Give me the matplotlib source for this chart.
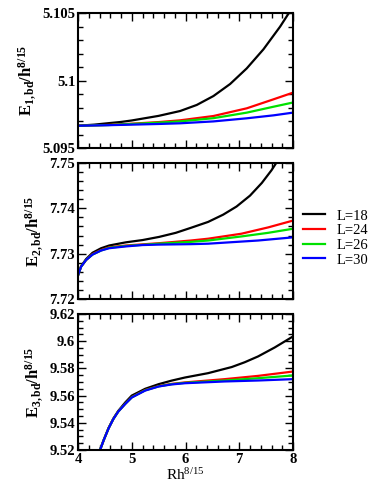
import numpy as np
import matplotlib
matplotlib.use("Agg")
import matplotlib.pyplot as plt
from matplotlib.ticker import MultipleLocator

plt.rcParams['font.family'] = 'Liberation Serif'
plt.rcParams['mathtext.fontset'] = 'custom'
plt.rcParams['mathtext.rm'] = 'Liberation Serif'
plt.rcParams['mathtext.it'] = 'Liberation Serif:italic'
plt.rcParams['mathtext.bf'] = 'Liberation Serif:bold'

labels = ['L=18', 'L=24', 'L=26', 'L=30']
colors = ['black', 'red', '#00e000', 'blue']
x_ticks = ['4', '5', '6', '7', '8']

# panel 1: E_1
x1_black = [4.0, 4.3, 4.57, 4.8, 5.0, 5.5, 5.9, 6.21, 6.52, 6.83, 7.14, 7.45, 7.76, 7.94, 8.0]
y1_black = [5.09665, 5.09673, 5.09684, 5.09693, 5.09704, 5.09738, 5.09774, 5.09819, 5.09885,
            5.09974, 5.10090, 5.10231, 5.10399, 5.10510, 5.10550]
x1_red = [4.0, 4.57, 5.0, 5.5, 5.9, 6.52, 7.14, 7.64, 8.0]
y1_red = [5.09665, 5.09671, 5.09680, 5.09692, 5.09705, 5.09737, 5.09794, 5.09861, 5.09910]
x1_green = [4.0, 4.57, 5.0, 5.5, 5.9, 6.52, 7.14, 7.64, 8.0]
y1_green = [5.09665, 5.09670, 5.09678, 5.09688, 5.09697, 5.09721, 5.09762, 5.09806, 5.09837]
x1_blue = [4.0, 4.57, 5.0, 5.5, 5.9, 6.52, 7.14, 7.64, 8.0]
y1_blue = [5.09665, 5.09669, 5.09673, 5.09678, 5.09683, 5.09697, 5.09720, 5.09742, 5.09762]

# panel 2: E_2
x2_black = [4.0, 4.056, 4.15, 4.27, 4.43, 4.58, 4.89, 5.2, 5.51, 5.82, 6.1, 6.42, 6.7, 6.95,
            7.2, 7.42, 7.6, 7.72]
y2_black = [7.7252, 7.7272, 7.7288, 7.7302, 7.7312, 7.7318, 7.7325, 7.7330, 7.7337, 7.7346,
            7.7357, 7.7370, 7.7386, 7.7404, 7.7428, 7.7456, 7.7484, 7.7506]
x2_red = [4.0, 4.056, 4.15, 4.27, 4.43, 4.58, 4.89, 5.5, 6.1, 6.42, 7.04, 7.54, 8.0]
y2_red = [7.7252, 7.7271, 7.7286, 7.7299, 7.7308, 7.7314, 7.7318, 7.7323, 7.7329, 7.7333,
          7.7344, 7.7358, 7.7373]
x2_green = [4.0, 4.056, 4.15, 4.27, 4.43, 4.58, 4.89, 5.5, 6.1, 6.42, 7.04, 7.54, 8.0]
y2_green = [7.7252, 7.7271, 7.7286, 7.7298, 7.7307, 7.7313, 7.7317, 7.7322, 7.7326, 7.7329,
            7.7338, 7.7346, 7.7355]
x2_blue = [4.0, 4.056, 4.15, 4.27, 4.43, 4.58, 4.89, 5.2, 5.5, 6.1, 6.42, 7.35, 8.0]
y2_blue = [7.7252, 7.7271, 7.7286, 7.7298, 7.7307, 7.7312, 7.7316, 7.7319, 7.7320, 7.7321,
           7.7322, 7.7329, 7.7336]

# panel 3: E_3
x3_black = [4.41, 4.48, 4.57, 4.66, 4.75, 4.88, 5.0, 5.25, 5.5, 5.74, 5.99, 6.42, 6.86, 7.1,
            7.35, 7.66, 8.0]
y3_black = [9.5200, 9.5276, 9.5363, 9.5433, 9.5488, 9.5550, 9.5600, 9.5650, 9.5684, 9.5710,
            9.5733, 9.5765, 9.5810, 9.5845, 9.5888, 9.5954, 9.6035]
x3_red = [4.41, 4.48, 4.57, 4.66, 4.75, 4.88, 5.0, 5.25, 5.5, 5.74, 5.99, 6.73, 7.35, 8.0]
y3_red = [9.5200, 9.5274, 9.5361, 9.5430, 9.5484, 9.5541, 9.5589, 9.5641, 9.5670, 9.5686,
          9.5697, 9.5721, 9.5745, 9.5777]
x3_green = [4.41, 4.48, 4.57, 4.66, 4.75, 4.88, 5.0, 5.25, 5.5, 5.74, 5.99, 6.73, 7.35, 8.0]
y3_green = [9.5200, 9.5274, 9.5360, 9.5429, 9.5483, 9.5540, 9.5587, 9.5639, 9.5668, 9.5684,
            9.5694, 9.5711, 9.5728, 9.5748]
x3_blue = [4.41, 4.48, 4.57, 4.66, 4.75, 4.88, 5.0, 5.25, 5.5, 5.74, 5.99, 6.73, 7.35, 8.0]
y3_blue = [9.5200, 9.5274, 9.5360, 9.5429, 9.5483, 9.5539, 9.5586, 9.5637, 9.5667, 9.5682,
           9.5691, 9.5704, 9.5711, 9.5721]

panels = [
    ([x1_black, x1_red, x1_green, x1_blue], [y1_black, y1_red, y1_green, y1_blue],
     (5.095, 5.105), 0.001, ['5.095', '5.1', '5.105'], r'$\mathbf{E_{1,bd}/h^{8/15}}$'),
    ([x2_black, x2_red, x2_green, x2_blue], [y2_black, y2_red, y2_green, y2_blue],
     (7.72, 7.75), 0.002, ['7.72', '7.73', '7.74', '7.75'], r'$\mathbf{E_{2,bd}/h^{8/15}}$'),
    ([x3_black, x3_red, x3_green, x3_blue], [y3_black, y3_red, y3_green, y3_blue],
     (9.52, 9.62), 0.005, ['9.52', '9.54', '9.56', '9.58', '9.6', '9.62'], r'$\mathbf{E_{3,bd}/h^{8/15}}$'),
]

fig = plt.figure(figsize=(3.74, 4.95), dpi=100)
W, H = 374, 495
boxes = [(13, 148), (163, 299), (314, 450)]
axes = []
for (top, bot), (xs, ys, ylim, mnr, ylbl, ylab) in zip(boxes, panels):
    ax = fig.add_axes([78 / W, 1 - bot / H, (293 - 78) / W, (bot - top) / H])
    for x, y, c, lab in zip(xs, ys, colors, labels):
        ax.plot(x, y, color=c, lw=1.6, label=lab, solid_joinstyle='round')
    ax.set_xlim(4, 8)
    ax.set_ylim(*ylim)
    ax.set_xticks([float(t) for t in x_ticks])
    ax.xaxis.set_minor_locator(MultipleLocator(0.2))
    ax.set_yticks([float(t) for t in ylbl])
    ax.set_yticklabels(ylbl, fontweight='bold', fontsize=10.5)
    ax.yaxis.set_minor_locator(MultipleLocator(mnr))
    ax.tick_params(which='both', direction='in', top=True, right=True, width=1.0)
    ax.tick_params(which='major', length=6)
    ax.tick_params(which='minor', length=3.5)
    ax.tick_params(axis='y', pad=2)
    for s in ax.spines.values():
        s.set_linewidth(1.5)
    ax.set_ylabel(ylab, fontsize=12, labelpad=3)
    axes.append(ax)

for ax in axes[:2]:
    ax.set_xticklabels([])
axes[2].set_xticklabels(x_ticks, fontweight='bold', fontsize=10.5)
axes[2].tick_params(axis='x', pad=2)
axes[2].set_xlabel(r'Rh$^{8/15}$', fontsize=11, labelpad=1)

handles, labs = axes[1].get_legend_handles_labels()
fig.legend(handles, labs, loc='center left', bbox_to_anchor=(303 / W, 1 - 238 / H),
           frameon=False, fontsize=10.5, handlelength=1.5, handletextpad=0.8,
           labelspacing=0.1, borderpad=0, borderaxespad=0)

fig.savefig('out.png', dpi=100)
